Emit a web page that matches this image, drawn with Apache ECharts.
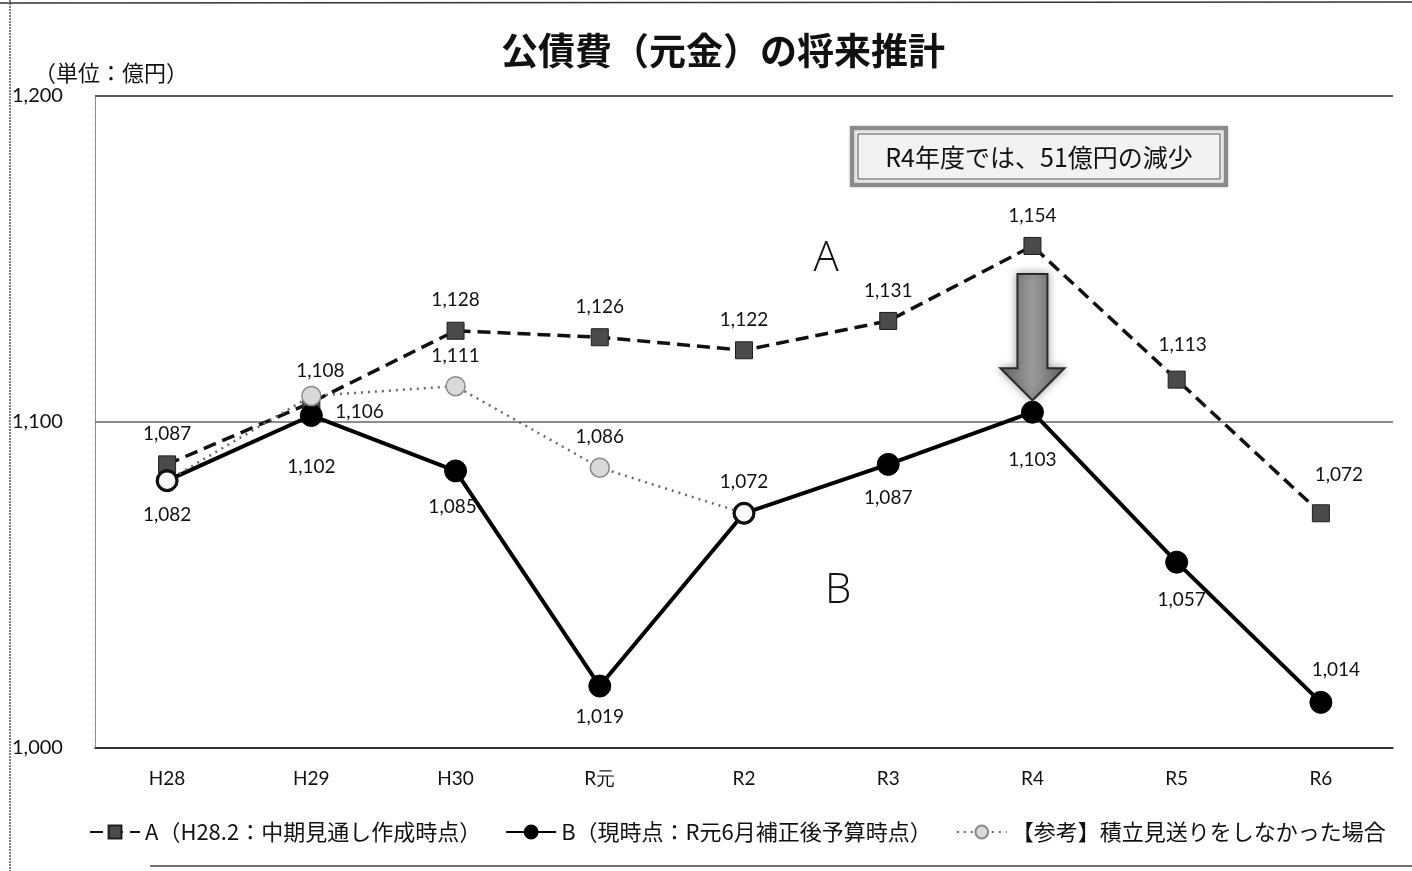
<!DOCTYPE html>
<html>
<head>
<meta charset="utf-8">
<script src="https://cdn.jsdelivr.net/npm/echarts@6/dist/echarts.min.js"></script>
<style>
  html, body { margin: 0; padding: 0; background: #fff; }
  #chart { width: 1412px; height: 871px; }
</style>
</head>
<body>
<div id="chart"></div>
<script>
// Fiscal years and projected principal repayment (億円)
const fiscalYears = ['H28', 'H29', 'H30', 'R元', 'R2', 'R3', 'R4', 'R5', 'R6'];
const planA = [1087, 1106, 1128, 1126, 1122, 1131, 1154, 1113, 1072];
const currentB = [1082, 1102, 1085, 1019, 1072, 1087, 1103, 1057, 1014];
const withoutDeferral = [1082, 1108, 1111, 1086, 1072, null, null, null, null];
const yAxisMin = 1000;
const yAxisMax = 1200;
const yAxisStep = 100;

const seriesNames = [
  'A（H28.2：中期見通し作成時点）',
  'B（現時点：R元6月補正後予算時点）',
  '【参考】積立見送りをしなかった場合'
];
const titleText = '公債費（元金）の将来推計';
const unitText = '（単位：億円）';
const calloutText = 'R4年度では、51億円の減少';
const calloutYear = 'R4';

// Label placement per point: [position, distance, dx, dy]; null hides the label
const labelLayoutA = [['top', 12], ['right', 15, 0, 9], ['top', 12], ['top', 12], ['top', 12],
                      ['top', 12], ['top', 12], ['top', 16, 6, 0], ['top', 20, 18, 0]];
const labelLayoutB = [['bottom', 13], ['bottom', 30], ['bottom', 15, -3, 0], ['bottom', 10], null,
                      ['bottom', 12], ['bottom', 27], ['bottom', 17, 5, 0], ['top', 11, 15, 0]];
const labelLayoutRef = [null, ['top', 5, 9, 0], ['top', 11], ['top', 11], ['top', 11],
                        null, null, null, null];

const numFont = 'Lato, "Liberation Sans", sans-serif';
const jpFont = '"Noto Sans CJK JP", "Noto Sans", sans-serif';

const fmt = v => Number(v).toLocaleString('en-US');

function withLabels(values, layout, extra) {
  return values.map((v, i) => {
    const item = { value: v };
    const l = layout[i];
    if (l) {
      item.label = {
        show: true,
        position: l[0],
        distance: l[1],
        offset: [l[2] || 0, l[3] || 0]
      };
    } else {
      item.label = { show: false };
    }
    if (extra) Object.assign(item, extra(v, i) || {});
    return item;
  });
}

const labelBase = {
  show: true,
  formatter: p => fmt(p.value),
  fontFamily: numFont,
  fontSize: 19,
  color: '#111'
};

const chart = echarts.init(document.getElementById('chart'), null, { renderer: 'canvas' });

const option = {
  animation: false,
  backgroundColor: '#fff',
  grid: { left: 95, right: 19, top: 96, bottom: 123, containLabel: false },
  title: {
    text: titleText,
    left: 718,
    top: 27,
    textAlign: 'center',
    textStyle: { fontFamily: jpFont, fontSize: 37, fontWeight: 'bold', color: '#111' }
  },
  legend: {
    left: 84,
    top: 816,
    itemWidth: 50,
    itemHeight: 16,
    itemGap: 24,
    textStyle: { fontFamily: jpFont, fontSize: 22, color: '#111' },
    data: seriesNames
  },
  xAxis: {
    type: 'category',
    data: fiscalYears,
    boundaryGap: true,
    axisLine: { show: true, lineStyle: { color: '#222', width: 1.5 } },
    axisTick: { show: false },
    axisLabel: { fontFamily: numFont, fontSize: 19, color: '#111', margin: 21 },
    splitLine: { show: false }
  },
  yAxis: {
    type: 'value',
    min: yAxisMin,
    max: yAxisMax,
    interval: yAxisStep,
    axisLine: { show: true, lineStyle: { color: '#777', width: 1, type: 'dotted' } },
    axisTick: { show: false },
    axisLabel: {
      fontFamily: numFont, fontSize: 20, color: '#111',
      align: 'left', margin: 83,
      formatter: v => fmt(v)
    },
    splitLine: { show: true, lineStyle: { color: ['#333', '#666', '#222'], width: 1.5 } }
  },
  series: [
    {
      name: seriesNames[0],
      type: 'line',
      z: 3,
      data: withLabels(planA, labelLayoutA),
      symbol: 'rect',
      symbolSize: 17,
      itemStyle: { color: '#4a4a4a', borderColor: '#1e1e1e', borderWidth: 1 },
      lineStyle: { color: '#111', width: 3.5, type: [13, 7] },
      label: labelBase
    },
    {
      name: seriesNames[1],
      type: 'line',
      z: 4,
      data: withLabels(currentB, labelLayoutB),
      symbol: 'circle',
      symbolSize: 22,
      itemStyle: { color: '#000', borderColor: '#000', borderWidth: 1 },
      lineStyle: { color: '#000', width: 4 },
      label: labelBase
    },
    {
      name: seriesNames[2],
      type: 'line',
      z: 5,
      data: withLabels(withoutDeferral, labelLayoutRef, (v, i) =>
        // Where the reference path meets B, its marker is a hollow ring on B's point
        v === currentB[i] ? { itemStyle: { color: '#fafafa', borderColor: '#111', borderWidth: 2.5 } } : null),
      symbol: 'circle',
      symbolSize: 19,
      connectNulls: false,
      itemStyle: { color: '#d9d9d9', borderColor: '#8a8a8a', borderWidth: 1.5 },
      lineStyle: { color: '#6a6a6a', width: 2.5, type: [2, 5] },
      label: labelBase
    }
  ]
};

chart.setOption(option);

// Annotations placed from the data coordinates
function drawAnnotations() {
  const idx = fiscalYears.indexOf(calloutYear);
  const topPt = chart.convertToPixel({ seriesIndex: 0 }, [idx, planA[idx]]);
  const tipPt = chart.convertToPixel({ seriesIndex: 1 }, [idx, currentB[idx]]);
  const cx = topPt[0];
  const yTop = topPt[1] + 28;
  const yTip = tipPt[1] - 12;
  const yHead = yTip - 32;
  const shaft = 15, head = 32;
  const arrowPts = [
    [cx - shaft, yTop], [cx + shaft, yTop], [cx + shaft, yHead], [cx + head, yHead],
    [cx, yTip], [cx - head, yHead], [cx - shaft, yHead]
  ];

  const letterA = chart.convertToPixel({ seriesIndex: 0 }, [5, 1150]);
  const letterB = chart.convertToPixel({ seriesIndex: 0 }, [5, 1048]);

  chart.setOption({
    graphic: [
      // page frame
      { type: 'line', shape: { x1: 0, y1: 3, x2: 1412, y2: 2 }, style: { stroke: '#333', lineWidth: 1.5 }, silent: true },
      { type: 'line', shape: { x1: 10, y1: 0, x2: 10, y2: 871 }, style: { stroke: '#555', lineWidth: 1.5, lineDash: [2, 1] }, silent: true },
      { type: 'line', shape: { x1: 150, y1: 866, x2: 1412, y2: 866 }, style: { stroke: '#444', lineWidth: 1.5 }, silent: true },
      // unit
      {
        type: 'text', left: 34, top: 62,
        style: { text: unitText, font: '22px ' + jpFont, fill: '#111' }
      },
      // callout box
      {
        type: 'group',
        children: [
          { type: 'rect', shape: { x: 852, y: 128, width: 374, height: 57 },
            style: { fill: '#ebebeb', stroke: '#8a8a8a', lineWidth: 4, shadowBlur: 3, shadowColor: 'rgba(0,0,0,0.25)' } },
          { type: 'rect', shape: { x: 858, y: 134, width: 362, height: 45 },
            style: { fill: '#f2f2f2', stroke: '#555', lineWidth: 1 } },
          { type: 'text', x: 1039, y: 157,
            style: { text: calloutText, font: '25px ' + jpFont, fill: '#111', align: 'center', verticalAlign: 'middle' } }
        ]
      },
      // downward arrow A -> B
      {
        type: 'polygon', z: 10,
        shape: { points: arrowPts },
        style: {
          fill: new echarts.graphic.LinearGradient(0, 0, 1, 0, [
            { offset: 0, color: '#6e6e6e' }, { offset: 0.5, color: '#9a9a9a' }, { offset: 1, color: '#6e6e6e' }
          ]),
          stroke: '#2a2a2a', lineWidth: 2,
          shadowBlur: 8, shadowColor: 'rgba(0,0,0,0.35)'
        }
      },
      // series letters
      { type: 'text', x: letterA[0] - 62, y: letterA[1], z: 10,
        style: { text: 'A', font: '300 42px "Open Sans", sans-serif', fill: '#111', align: 'center', verticalAlign: 'middle' } },
      { type: 'text', x: letterB[0] - 50, y: letterB[1], z: 10,
        style: { text: 'B', font: '300 42px "Open Sans", sans-serif', fill: '#111', align: 'center', verticalAlign: 'middle' } }
    ]
  });
}
drawAnnotations();
</script>
</body>
</html>
